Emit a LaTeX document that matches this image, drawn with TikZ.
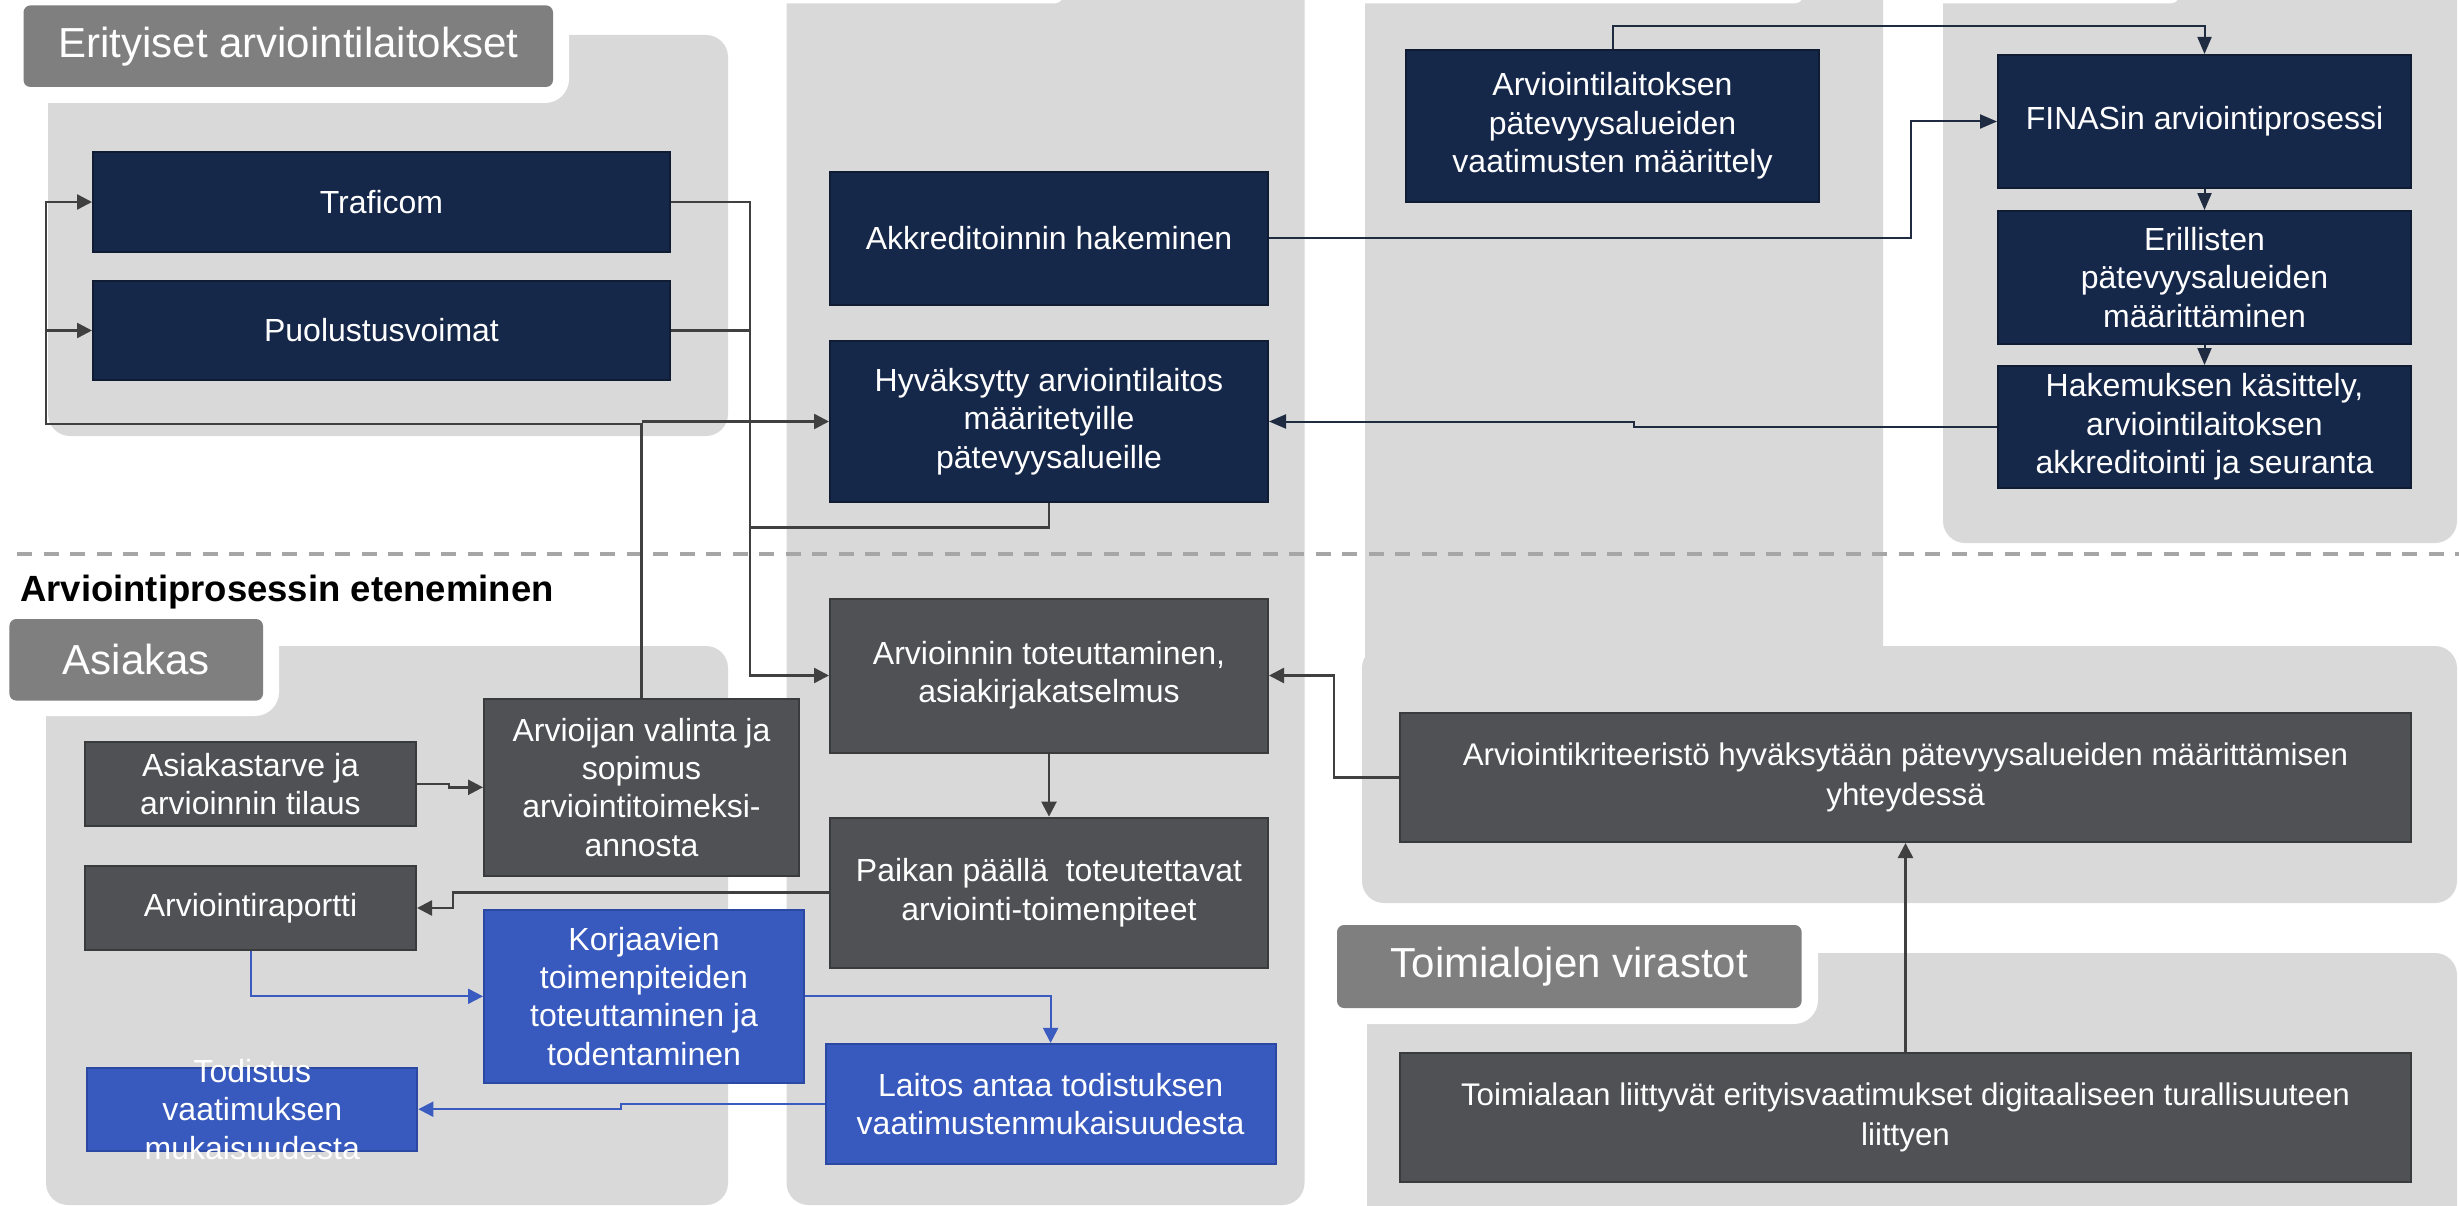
\documentclass[tikz,border=0pt]{standalone}
\usepackage{fontspec}
\setmainfont{Liberation Sans}
\usetikzlibrary{arrows.meta}
\definecolor{panel}{HTML}{D9D9D9}
\definecolor{tabgray}{HTML}{7F7F7F}
\definecolor{navy}{HTML}{16284A}
\definecolor{navyedge}{HTML}{0F1C33}
\definecolor{dgray}{HTML}{505155}
\definecolor{dgrayedge}{HTML}{3A3B3D}
\definecolor{bblue}{HTML}{3859BE}
\definecolor{bblueedge}{HTML}{2B48A3}
\definecolor{conn}{HTML}{404040}
\definecolor{navyline}{HTML}{1E2B40}
\definecolor{blueline}{HTML}{3A5BC0}
\definecolor{dashgray}{HTML}{A6A6A6}
\begin{document}
\begin{tikzpicture}[x=1pt,y=-1pt,
 box/.style={rectangle, inner sep=0pt, align=center, text=white, font=\fontsize{32}{38.4}\selectfont, line width=2pt},
 navybox/.style={box, fill=navy, draw=navyedge},
 graybox/.style={box, fill=dgray, draw=dgrayedge},
 bluebox/.style={box, fill=bblue, draw=bblueedge},
 txt/.style={inner sep=0pt, align=center, text=white, font=\fontsize{32}{38.4}\selectfont},
 tab/.style={rectangle, rounded corners=7pt, fill=tabgray, text=white, inner sep=0pt, font=\fontsize{42}{50}\selectfont},
 pnl/.style={fill=panel, rounded corners=22pt},
 halo/.style={fill=white, rounded corners=24pt},
 gline/.style={draw=conn, line width=2.5pt},
 garrow/.style={gline, -{Triangle[length=15pt,width=15pt]}},
 nline/.style={draw=navyline, line width=2pt},
 narrowtip/.style={nline, -{Triangle[length=17pt,width=14pt]}},
 bline/.style={draw=blueline, line width=2pt},
 barrow/.style={bline, -{Triangle[length=15pt,width=15pt]}},
]
\useasboundingbox (0,0) rectangle (2459,1206);
\begin{scope}
\clip (0,0) rectangle (2459,1206);
% panels
\fill[pnl] (48,35) rectangle (728,436);
\fill[pnl] (786.5,-40) rectangle (1304.5,1205);
\fill[pnl] (1365,-40) rectangle (1883,760);
\fill[pnl] (1362,646) rectangle (2457,903);
\fill[pnl] (1943,-40) rectangle (2457,543);
\fill[pnl] (46,646) rectangle (728,1205);
\fill[pnl] (1367,953) rectangle (2457,1240);
% halos
\fill[halo] (7,-20) rectangle (569,103);
\fill[halo] (-20,603) rectangle (279,716);
\fill[halo] (1321,909) rectangle (1818,1024);
\fill[white, rounded corners=8pt] (770,-40) rectangle (1063,3.3);
\fill[white, rounded corners=8pt] (1350,-40) rectangle (1803,3.3);
\fill[white, rounded corners=8pt] (1925,-40) rectangle (2179,3.3);
\end{scope}
% tabs
\node[tab, minimum width=529.5pt, minimum height=81.6pt] (tab1) at (288.25,46.2) {Erityiset arviointilaitokset};
\node[tab, minimum width=253.6pt, minimum height=81.6pt] (tab2) at (136.2,659.8) {Asiakas};
\node[tab, minimum width=464.6pt, minimum height=83pt] (tab3) at (1569.3,966.5) {Toimialojen virastot};
% dashed separator
\coordinate (dashL) at (17,553.5);
\coordinate (dashR) at (2459,553.5);
\draw[dashgray, line width=4pt, dash pattern=on 15pt off 11.5pt] (dashL) -- (dashR);
\node[anchor=base west, inner sep=0pt, font=\bfseries\fontsize{36.5}{44}\selectfont] (title) at (20,601) {Arviointiprosessin eteneminen};
% navy boxes
\node[navybox, minimum width=577pt, minimum height=100pt] (traficom) at (381.5,202) {Traficom};
\node[navybox, minimum width=577pt, minimum height=99pt] (puolustus) at (381.5,330.5) {Puolustusvoimat};
\node[navybox, minimum width=438pt, minimum height=133pt] (akkred) at (1049,238.5) {Akkreditoinnin hakeminen};
\node[navybox, minimum width=438pt, minimum height=161pt] (hyvak) at (1049,421.5) {Hyväksytty arviointilaitos\\määritetyille\\pätevyysalueille};
\node[navybox, minimum width=413pt, minimum height=152pt] (arvlait) at (1612.5,126) {Arviointilaitoksen\\pätevyysalueiden\\vaatimusten määrittely};
\node[navybox, minimum width=413pt, minimum height=133pt] (finas) at (2204.5,121.5) {FINASin arviointiprosessi};
\node[navybox, minimum width=413pt, minimum height=132.5pt] (erill) at (2204.5,277.3) {Erillisten\\pätevyysalueiden\\määrittäminen};
\node[navybox, minimum width=413pt, minimum height=122pt] (hakem) at (2204.5,427) {Hakemuksen käsittely,\\arviointilaitoksen\\akkreditointi ja seuranta};
% gray boxes
\node[graybox, minimum width=438pt, minimum height=154pt] (arvioinnin) at (1049,675.5) {Arvioinnin toteuttaminen,\\asiakirjakatselmus};
\node[graybox, minimum width=438pt, minimum height=150pt] (paikan) at (1049,892.6) {Paikan päällä\ \ toteutettavat\\arviointi-toimenpiteet};
\node[graybox, minimum width=331pt, minimum height=83.5pt] (asiak) at (250.5,783.8) {Asiakastarve ja\\arvioinnin tilaus};
\node[graybox, minimum width=315pt, minimum height=176.6pt] (arvioijan) at (641.5,787.3) {Arvioijan valinta ja\\sopimus\\arviointitoimeksi-\\annosta};
\node[graybox, minimum width=331pt, minimum height=84pt] (raportti) at (250.5,908) {Arviointiraportti};
\node[graybox, minimum width=1011pt, minimum height=129pt, font=\fontsize{31.3}{40}\selectfont] (kriteer) at (1905.5,777.5) {Arviointikriteeristö hyväksytään pätevyysalueiden määrittämisen\\yhteydessä};
\node[graybox, minimum width=1011pt, minimum height=129pt, font=\fontsize{31.3}{40}\selectfont] (toimialaan) at (1905.5,1117.5) {Toimialaan liittyvät erityisvaatimukset digitaaliseen turallisuuteen\\liittyen};
% blue boxes
\node[bluebox, minimum width=320pt, minimum height=173.4pt] (korjaav) at (644,996.3) {Korjaavien\\toimenpiteiden\\toteuttaminen ja\\todentaminen};
\node[bluebox, minimum width=450pt, minimum height=120.5pt] (laitos) at (1050.6,1104.2) {Laitos antaa todistuksen\\vaatimustenmukaisuudesta};
\node[bluebox, minimum width=330pt, minimum height=83pt] (todistus) at (252.3,1109.2) {};
\node[txt] (todtxt) at (todistus.center) {Todistus\\vaatimuksen\\mukaisuudesta};
% helper coordinates
\coordinate (bus) at (46,424);
\coordinate (rbus) at (750,527.7);
\coordinate (topy) at (0,25.7);
\coordinate (akx) at (1911,0);
\coordinate (hkx) at (1634,0);
\coordinate (akrx) at (1334,0);
\coordinate (atx) at (449,0);
\coordinate (pkx) at (453,0);
\coordinate (lx) at (621,0);
% left group connectors
\draw[garrow] (arvioijan.north) |- (bus) |- (traficom.west);
\draw[garrow] (bus |- puolustus.west) -- (puolustus.west);
\draw[garrow] (arvioijan.north |- hyvak.west) -- (hyvak.west);
\draw[garrow] (traficom.east) -| (rbus) |- (arvioinnin.west);
\draw[gline] (puolustus.east) -- (rbus |- puolustus.east);
\draw[gline] (hyvak.south) |- (rbus);
% navy connectors
\draw[narrowtip] (arvlait.north) -- (arvlait.north |- topy) -| (finas.north);
\draw[narrowtip] (akkred.east) -| (akx |- finas.west) -- (finas.west);
\draw[narrowtip] (finas.south) -- (erill.north);
\draw[narrowtip] (erill.south) -- (hakem.north);
\draw[narrowtip] (hakem.west) -| (hkx |- hyvak.east) -- (hyvak.east);
% lower gray connectors
\draw[garrow] (arvioinnin.south) -- (paikan.north);
\draw[garrow] (kriteer.west) -| (akrx |- arvioinnin.east) -- (arvioinnin.east);
\draw[garrow] (toimialaan.north) -- (kriteer.south);
\draw[garrow] (asiak.east) -| (atx |- arvioijan.west) -- (arvioijan.west);
\draw[garrow] (paikan.west) -| (pkx |- raportti.east) -- (raportti.east);
% blue connectors
\draw[barrow] (raportti.south) |- (korjaav.west);
\draw[barrow] (korjaav.east) -| (laitos.north);
\draw[barrow] (laitos.west) -| (lx |- todistus.east) -- (todistus.east);
\end{tikzpicture}
\end{document}
